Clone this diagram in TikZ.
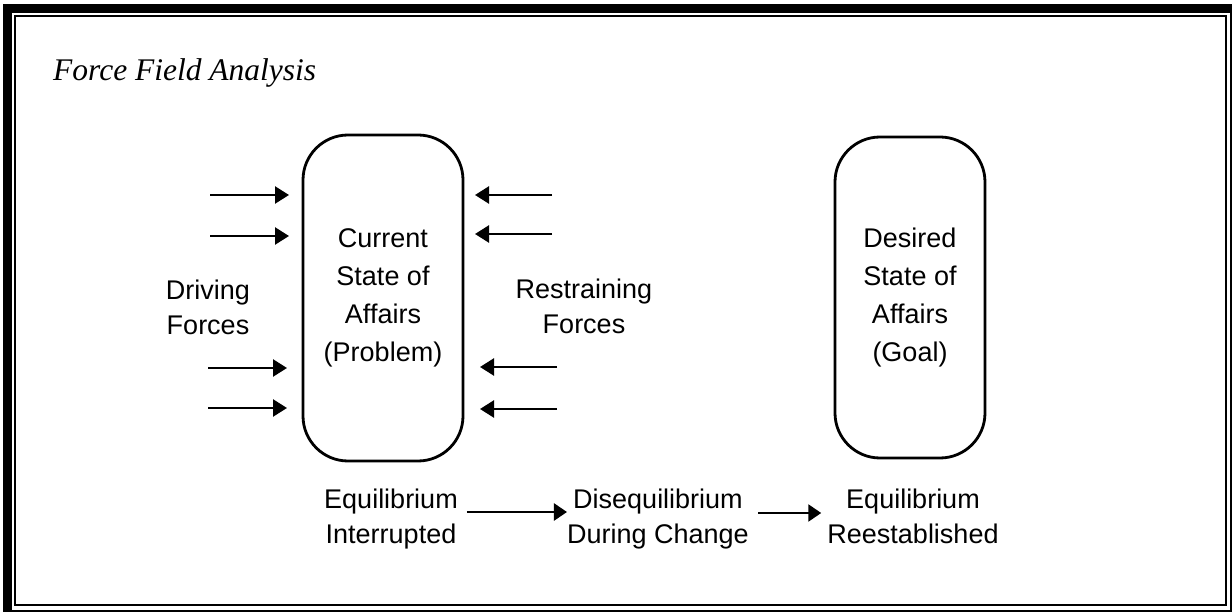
\documentclass[tikz,border=0pt]{standalone}
\usepackage{fontspec}
\setmainfont{Liberation Sans}
\newfontfamily\titlefont{Liberation Serif}
\usetikzlibrary{arrows.meta}
\begin{document}
\begin{tikzpicture}[x=1pt,y=-1pt,
  statebox/.style={draw,line width=2.8pt,rounded corners=45pt,align=center,inner sep=0pt,
    font=\fontsize{27}{38}\selectfont},
  lbl/.style={align=center,inner sep=0pt,font=\fontsize{27}{35}\selectfont},
  force/.style={line width=2.4pt,-{Triangle[length=14pt,width=17pt]}},
  flow/.style={line width=2.4pt,-{Triangle[length=13pt,width=17pt]}}]
\useasboundingbox (0,0) rectangle (1232,612);
% double frame
\draw[line width=9pt] (7.5,9) rectangle (1234,614);
\draw[line width=2pt] (15,16) rectangle (1226,605);
% title
\node[anchor=base west,inner sep=0pt,font=\titlefont\itshape\fontsize{31.5}{36}\selectfont] (title) at (53,81) {Force Field Analysis};
% states
\node[statebox,minimum width=160pt,minimum height=326pt] (cur) at (383,298) {Current\\State of\\Affairs\\(Problem)};
\node[statebox,minimum width=150pt,minimum height=321pt] (goal) at (910,297.5) {Desired\\State of\\Affairs\\(Goal)};
% side labels
\node[lbl] (drv) at (208,307) {Driving\\Forces};
\node[lbl] (rst) at (584,306) {Restraining\\Forces};
% stage labels
\node[lbl] (eq1) at (391,519) {Equilibrium\\Interrupted};
\node[lbl] (dis) at (658,519) {Disequilibrium\\During Change};
\node[lbl] (eq2) at (913,516) {Equilibrium\\Reestablished};
% driving forces
\coordinate (d1s) at (210,195); \coordinate (d1e) at (289,195);
\coordinate (d2s) at (210,236); \coordinate (d2e) at (289,236);
\coordinate (d3s) at (208,368); \coordinate (d3e) at (287,368);
\coordinate (d4s) at (208,408); \coordinate (d4e) at (287,408);
\draw[force] (d1s) -- (d1e);
\draw[force] (d2s) -- (d2e);
\draw[force] (d3s) -- (d3e);
\draw[force] (d4s) -- (d4e);
% restraining forces
\coordinate (r1s) at (552,195); \coordinate (r1e) at (475,195);
\coordinate (r2s) at (552,234); \coordinate (r2e) at (475,234);
\coordinate (r3s) at (557,367); \coordinate (r3e) at (480,367);
\coordinate (r4s) at (557,409); \coordinate (r4e) at (480,409);
\draw[force] (r1s) -- (r1e);
\draw[force] (r2s) -- (r2e);
\draw[force] (r3s) -- (r3e);
\draw[force] (r4s) -- (r4e);
% stage flow
\draw[flow] (eq1.east |- 0,512) ++(9,0) coordinate (f1s) -- (dis.west |- 0,512) coordinate (f1e);
\draw[flow] (dis.east |- 0,513) ++(9,0) coordinate (f2s) -- ([xshift=-6pt]eq2.west |- 0,513) coordinate (f2e);
\end{tikzpicture}
\end{document}
